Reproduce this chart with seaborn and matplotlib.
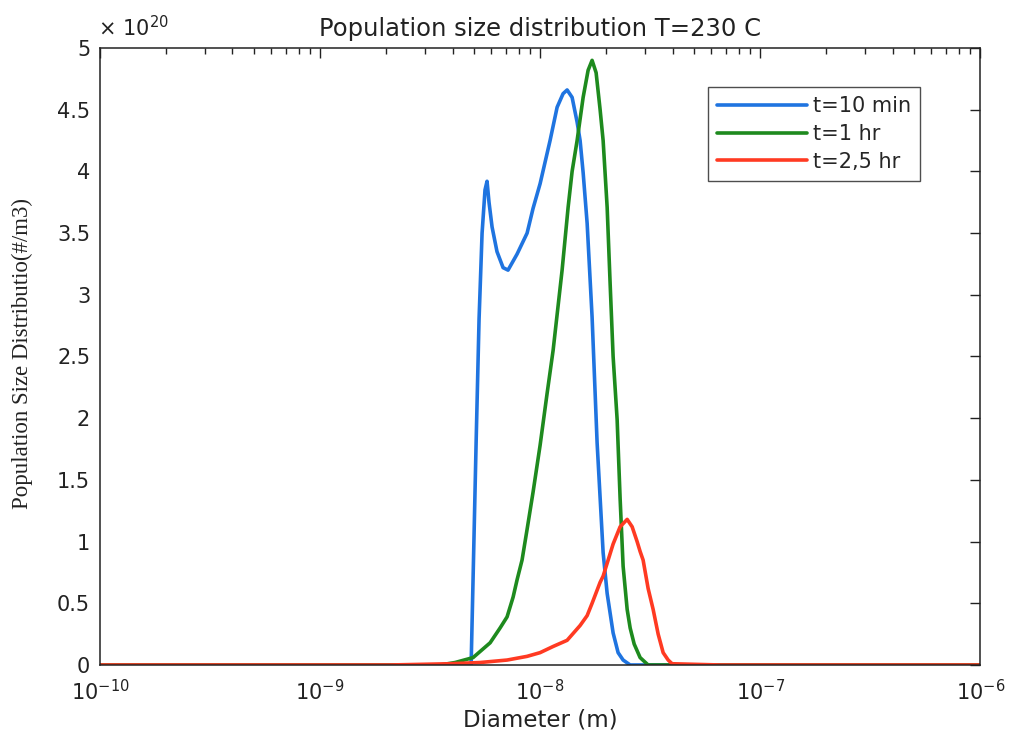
import numpy as np
import pandas as pd
import matplotlib
matplotlib.use("Agg")
import matplotlib.pyplot as plt
import matplotlib.ticker as mticker
import seaborn as sns

# ---- data: diameter (m) and population density in units of 1e20 #/m3 ----
SCALE = 1e20

d_10min = [1e-10, 4.86e-9, 4.96e-9, 5.12e-9, 5.28e-9, 5.45e-9, 5.62e-9, 5.74e-9, 5.86e-9,
           6.05e-9, 6.37e-9, 6.79e-9, 7.15e-9, 7.86e-9, 8.73e-9, 9.29e-9, 1.0e-8,
           1.11e-8, 1.195e-8, 1.272e-8, 1.327e-8, 1.398e-8, 1.473e-8, 1.52e-8, 1.569e-8,
           1.636e-8, 1.723e-8, 1.816e-8, 1.934e-8, 2.017e-8, 2.147e-8, 2.262e-8, 2.384e-8,
           2.566e-8, 1e-6]
v_10min = [0, 0, 0.7, 1.8, 2.8, 3.5, 3.85, 3.92, 3.75,
           3.55, 3.35, 3.22, 3.2, 3.33, 3.5, 3.7, 3.9,
           4.25, 4.52, 4.63, 4.66, 4.6, 4.4, 4.25, 3.99,
           3.58, 2.82, 1.8, 0.91, 0.58, 0.26, 0.1, 0.04,
           0, 0]

d_1hr = [1e-10, 3.51e-9, 4.11e-9, 4.96e-9, 5.93e-9, 6.58e-9, 7.08e-9, 7.54e-9, 7.86e-9,
         8.28e-9, 8.73e-9, 9.29e-9, 1.0e-8, 1.076e-8, 1.146e-8, 1.259e-8, 1.341e-8,
         1.398e-8, 1.473e-8, 1.569e-8, 1.653e-8, 1.723e-8, 1.797e-8, 1.874e-8, 1.934e-8,
         2.017e-8, 2.08e-8, 2.147e-8, 2.239e-8, 2.31e-8, 2.384e-8, 2.487e-8, 2.566e-8,
         2.676e-8, 2.848e-8, 3.097e-8, 1e-6]
v_1hr = [0, 0, 0.02, 0.06, 0.18, 0.3, 0.39, 0.55, 0.69,
         0.85, 1.1, 1.4, 1.78, 2.2, 2.55, 3.2, 3.71,
         4.0, 4.25, 4.6, 4.82, 4.9, 4.8, 4.5, 4.25,
         3.71, 3.1, 2.5, 1.99, 1.35, 0.8, 0.45, 0.3,
         0.17, 0.06, 0, 0]

d_25hr = [1e-10, 2.08e-9, 3.90e-9, 5.34e-9, 7.08e-9, 8.73e-9, 1.0e-8, 1.146e-8, 1.327e-8,
          1.52e-8, 1.636e-8, 1.723e-8, 1.874e-8, 1.934e-8, 2.038e-8, 2.147e-8, 2.31e-8,
          2.487e-8, 2.62e-8, 2.76e-8, 2.848e-8, 2.939e-8, 3.097e-8, 3.264e-8, 3.44e-8,
          3.624e-8, 3.82e-8, 3.98e-8, 6.58e-8, 1e-6]
v_25hr = [0, 0, 0.01, 0.02, 0.04, 0.07, 0.1, 0.15, 0.2,
          0.32, 0.4, 0.5, 0.67, 0.72, 0.85, 0.98, 1.12,
          1.18, 1.12, 1.0, 0.92, 0.85, 0.62, 0.45, 0.25,
          0.1, 0.04, 0.01, 0, 0]

labels = ["t=10 min", "t=1 hr", "t=2,5 hr"]
colors = ["#1f74e0", "#1e8a1e", "#ff3a22"]
x_ticks = [1e-10, 1e-9, 1e-8, 1e-7, 1e-6]
y_ticks = [0, 0.5, 1, 1.5, 2, 2.5, 3, 3.5, 4, 4.5, 5]

frames = []
for d, v, lab in zip([d_10min, d_1hr, d_25hr], [v_10min, v_1hr, v_25hr], labels):
    frames.append(pd.DataFrame({"Diameter": d, "N": np.array(v) * SCALE, "series": lab}))
df = pd.concat(frames, ignore_index=True)

sns.set_style("white")
plt.rcParams["font.family"] = ["DejaVu Sans"]
plt.rcParams["mathtext.fontset"] = "dejavusans"

fig = plt.figure(figsize=(10.2, 7.42), dpi=100)
ax = fig.add_axes([0.098, 0.1038, 0.863, 0.8315])

sns.lineplot(data=df, x="Diameter", y="N", hue="series", hue_order=labels,
             palette=colors, estimator=None, sort=False, linewidth=2.6, ax=ax)

ax.set_xscale("log")
ax.set_xlim(1e-10, 1e-6)
ax.set_ylim(0, 5 * SCALE)
ax.set_xticks(x_ticks)
ax.xaxis.set_major_formatter(mticker.FuncFormatter(
    lambda v, p: r"$\mathregular{10^{%d}}$" % int(round(np.log10(v)))))
ax.xaxis.set_minor_locator(mticker.LogLocator(base=10, subs=np.arange(2, 10), numticks=20))
ax.xaxis.set_minor_formatter(mticker.NullFormatter())
ax.set_yticks([t * SCALE for t in y_ticks])
ax.yaxis.set_major_formatter(mticker.FuncFormatter(lambda v, p: "%g" % (v / SCALE)))

ax.tick_params(which="both", direction="in", top=True, right=True, colors="#222222",
               labelcolor="#222222")
ax.tick_params(which="major", length=7, width=1, labelsize=15)
ax.tick_params(axis="x", which="major", pad=10)
ax.tick_params(axis="y", which="major", pad=7)
ax.tick_params(which="minor", length=4, width=1)
for s in ax.spines.values():
    s.set_color("#222222")
    s.set_linewidth(1.1)
    s.set_visible(True)

ax.set_xlabel("Diameter (m)", fontsize=16.5, color="#222222", labelpad=3)
ax.set_ylabel("Population Size Distributio(#/m3)", fontsize=16.5, color="#222222",
              family=["Liberation Serif", "DejaVu Serif"])
ax.yaxis.set_label_coords(-0.076, 0.505)
ax.set_title("Population size distribution T=230 C", fontsize=17.5, color="#222222", pad=9)
ax.text(-0.002, 1.012, r"$\mathregular{\times\ 10^{20}}$", transform=ax.transAxes,
        fontsize=15, color="#222222", ha="left", va="bottom")

leg = ax.legend(loc="upper right", bbox_to_anchor=(0.932, 0.937), fontsize=15,
                frameon=True, fancybox=False, handlelength=4.3, borderpad=0.45,
                labelspacing=0.37, handletextpad=0.3, borderaxespad=0.0)
leg.get_frame().set_edgecolor("#222222")
leg.get_frame().set_linewidth(1.0)
for line in leg.get_lines():
    line.set_linewidth(2.6)

fig.savefig("out.png", dpi=100, facecolor="white")
